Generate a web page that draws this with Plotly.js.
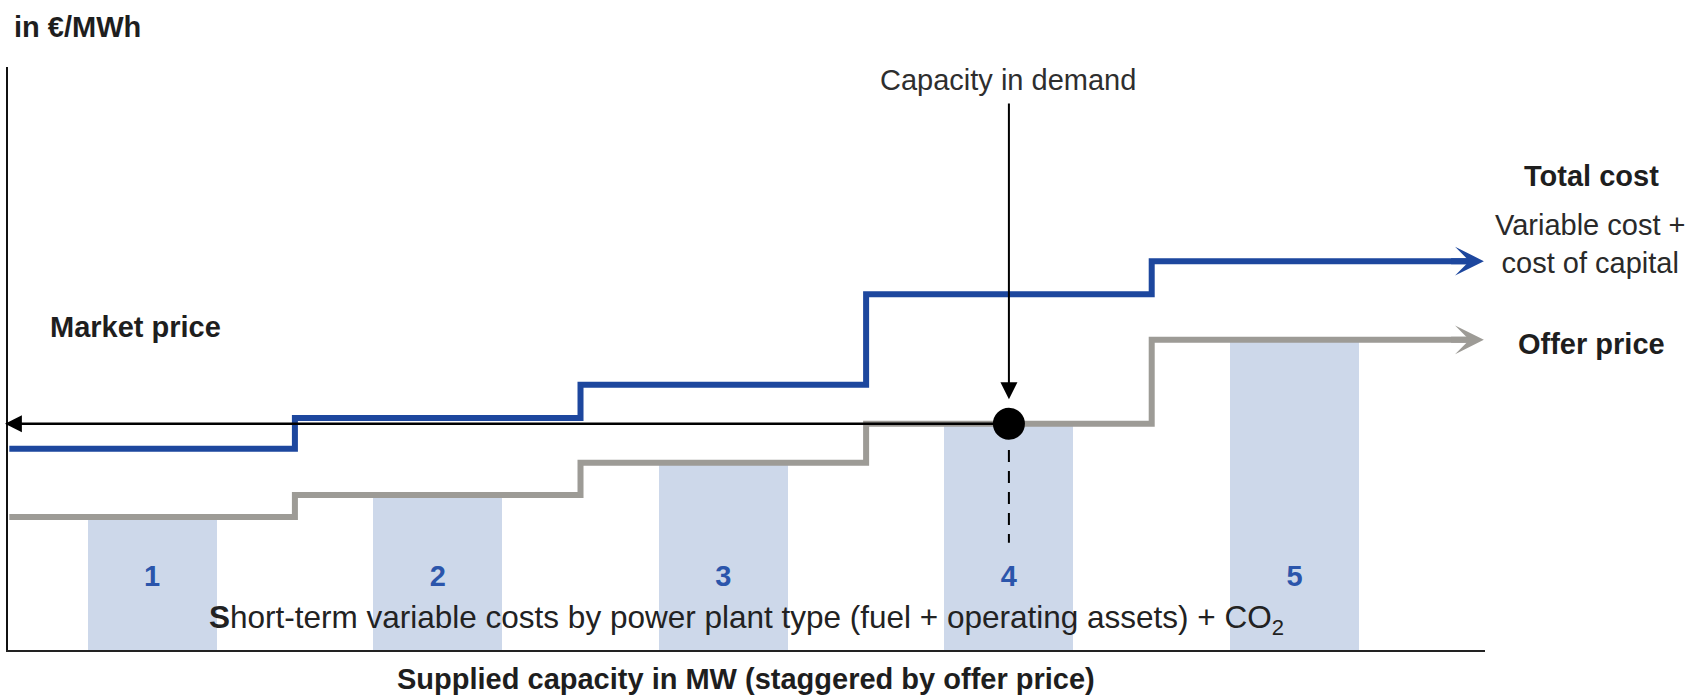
<!DOCTYPE html>
<html><head><meta charset="utf-8">
<script src="https://cdn.plot.ly/plotly-3.0.1.min.js"></script>
<style>html,body{margin:0;padding:0;background:#fff;overflow:hidden;}</style>
</head><body><div id="chart" style="width:1690px;height:696px;"></div>
<script>
// ---- data ----
const plantTypes = ['1', '2', '3', '4', '5'];
const blockStart = [0, 1, 2, 3, 4];          // supplied capacity blocks (staggered by offer price)
const offerPrice = [22.8, 26.6, 32.1, 38.8, 53.2];   // short-term variable cost
const totalCost = [34.5, 39.8, 45.5, 61.0, 66.7];    // variable cost + cost of capital
const marketPrice = 38.8;
const demandCapacity = 3.5;

// ---- layout constants ----
const W = 1690, H = 696;
const M = {l: 8, r: 205, t: 67, b: 46};
const PW = W - M.l - M.r, PH = H - M.t - M.b;
const xRange = [-0.0046, 5.167];
const yRange = [0, 100];
const lineEnd = 5.163;
const px = v => (v - M.l) / PW;           // pixel -> paper x
const py = v => (H - M.b - v) / PH;       // pixel -> paper y

const FONT = 'Liberation Sans, Arial, Helvetica, sans-serif';
const BLUE = '#1d479e', GREY = '#9d9b96', BAR = '#cdd8ea', NUM = '#2b55ab', TXT = '#1e1e1e';

const centers = blockStart.map(s => s + 0.5);
const last = a => a[a.length - 1];

const traces = [
  {type: 'bar', x: centers, y: offerPrice, width: 0.452, marker: {color: BAR, line: {width: 0}},
   hoverinfo: 'skip', showlegend: false},
  {type: 'scatter', mode: 'lines', x: blockStart.concat([lineEnd - 0.05]), y: offerPrice.concat([last(offerPrice)]),
   line: {shape: 'hv', color: GREY, width: 6}, hoverinfo: 'skip', showlegend: false},
  {type: 'scatter', mode: 'lines', x: blockStart.concat([lineEnd - 0.05]), y: totalCost.concat([last(totalCost)]),
   line: {shape: 'hv', color: BLUE, width: 6}, hoverinfo: 'skip', showlegend: false},
  {type: 'scatter', mode: 'text', x: centers, y: centers.map(() => 12.2), text: plantTypes,
   textfont: {family: FONT, size: 29, color: NUM, weight: 'bold'}, hoverinfo: 'skip', showlegend: false, cliponaxis: false},
];

const annotations = [
  // arrowheads at end of the step lines
  {x: lineEnd, y: last(offerPrice), ax: lineEnd - 0.12, ay: last(offerPrice), xref: 'x', yref: 'y', axref: 'x', ayref: 'y',
   text: '', showarrow: true, arrowhead: 3, arrowsize: 0.8, arrowwidth: 6, arrowcolor: GREY, standoff: 0},
  {x: lineEnd, y: last(totalCost), ax: lineEnd - 0.12, ay: last(totalCost), xref: 'x', yref: 'y', axref: 'x', ayref: 'y',
   text: '', showarrow: true, arrowhead: 3, arrowsize: 0.8, arrowwidth: 6, arrowcolor: BLUE, standoff: 0},
  // market price arrow
  {x: -0.015, y: marketPrice, ax: demandCapacity, ay: marketPrice, xref: 'x', yref: 'y', axref: 'x', ayref: 'y',
   text: '', showarrow: true, arrowhead: 2, arrowsize: 1.35, arrowwidth: 2.5, arrowcolor: '#000', standoff: 0},
  // capacity in demand arrow
  {x: demandCapacity, y: marketPrice + 4.2, ax: demandCapacity, ay: 94.0, xref: 'x', yref: 'y', axref: 'x', ayref: 'y',
   text: '', showarrow: true, arrowhead: 2, arrowsize: 1.7, arrowwidth: 2, arrowcolor: '#000', standoff: 0},
  // texts
  {xref: 'paper', yref: 'paper', x: px(12), y: py(27), xanchor: 'left', yanchor: 'middle', showarrow: false,
   text: '<b>in €/MWh</b>', font: {family: FONT, size: 29, color: TXT}},
  {xref: 'paper', yref: 'paper', x: px(48), y: py(327), xanchor: 'left', yanchor: 'middle', showarrow: false,
   text: '<b>Market price</b>', font: {family: FONT, size: 29, color: TXT}},
  {xref: 'paper', yref: 'paper', x: px(1008), y: py(80), xanchor: 'center', yanchor: 'middle', showarrow: false,
   text: 'Capacity in demand', font: {family: FONT, size: 29, color: '#2e2e2e'}},
  {xref: 'paper', yref: 'paper', x: px(1591), y: py(176), xanchor: 'center', yanchor: 'middle', showarrow: false,
   text: '<b>Total cost</b>', font: {family: FONT, size: 29, color: TXT}},
  {xref: 'paper', yref: 'paper', x: px(1590), y: py(244), xanchor: 'center', yanchor: 'middle', showarrow: false,
   text: 'Variable cost +<br>cost of capital', font: {family: FONT, size: 29, color: '#2a2a2a'}},
  {xref: 'paper', yref: 'paper', x: px(1591), y: py(344), xanchor: 'center', yanchor: 'middle', showarrow: false,
   text: '<b>Offer price</b>', font: {family: FONT, size: 29, color: TXT}},
  {xref: 'paper', yref: 'paper', x: px(746), y: py(619), xanchor: 'center', yanchor: 'middle', showarrow: false,
   text: '<b>S</b>hort-term variable costs by power plant type (fuel + operating assets) + CO<sub>2</sub>',
   font: {family: FONT, size: 31.5, color: '#222'}},
  {xref: 'paper', yref: 'paper', x: px(746), y: py(679), xanchor: 'center', yanchor: 'middle', showarrow: false,
   text: '<b>Supplied capacity in MW (staggered by offer price)</b>', font: {family: FONT, size: 29, color: TXT}},
];

const shapes = [
  {type: 'line', xref: 'x', yref: 'y', x0: demandCapacity, x1: demandCapacity, y0: marketPrice - 4.5, y1: 18.4,
   line: {color: '#000', width: 2, dash: '12px,9px'}},
];

// dot drawn last (on top)
traces.push({type: 'scatter', mode: 'markers', x: [demandCapacity], y: [marketPrice],
  marker: {color: '#000', size: 32, line: {width: 0}}, hoverinfo: 'skip', showlegend: false, cliponaxis: false});

const layout = {
  width: W, height: H, autosize: false,
  margin: M, paper_bgcolor: '#fff', plot_bgcolor: '#fff',
  showlegend: false,
  xaxis: {range: xRange, showgrid: false, zeroline: false, showticklabels: false, ticks: '',
          showline: true, linecolor: '#222', linewidth: 2, fixedrange: true},
  yaxis: {range: yRange, showgrid: false, zeroline: false, showticklabels: false, ticks: '',
          showline: true, linecolor: '#111', linewidth: 2, fixedrange: true},
  annotations: annotations,
  shapes: shapes,
  font: {family: FONT},
  bargap: 0
};

Plotly.newPlot('chart', traces, layout, {displayModeBar: false, staticPlot: true});
</script>
</body></html>
